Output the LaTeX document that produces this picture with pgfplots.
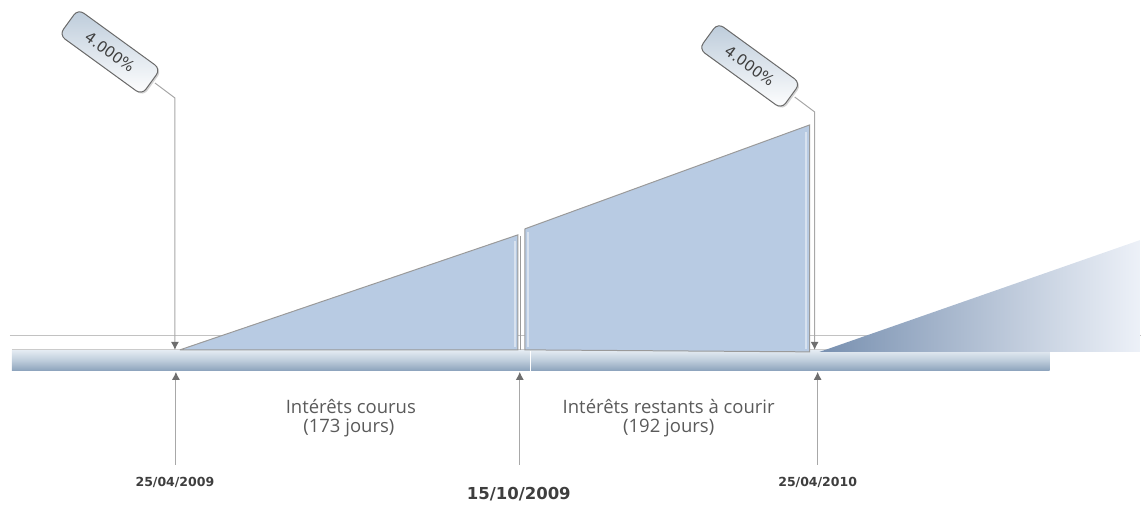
\documentclass[border=0pt]{standalone}
\usepackage{pgfplots}
\pgfplotsset{compat=1.18}
\usepackage{fontspec}
\setmainfont{Open Sans}
\newfontfamily\datefont{DejaVu Sans}
\usetikzlibrary{arrows.meta,shadows}
\definecolor{fillblue}{HTML}{B8CBE3}
\definecolor{shapeborder}{HTML}{9A9A9A}
\definecolor{linegrey}{HTML}{A8A8A8}
\definecolor{arrowgrey}{HTML}{6E6E6E}
\definecolor{barTop}{HTML}{E2E9F1}
\definecolor{barMid}{HTML}{BCCBDA}
\definecolor{barBot}{HTML}{8BA2BB}
\definecolor{gradLeft}{HTML}{7890B0}
\definecolor{gradRight}{HTML}{EDF1F8}
\definecolor{boxTop}{HTML}{BCCBDA}
\definecolor{boxBorder}{HTML}{6A6A6A}
\definecolor{labelgrey}{HTML}{5A5A5A}
\definecolor{dategrey}{HTML}{3E3E3E}
\begin{document}
\begin{tikzpicture}
\begin{axis}[scale only axis, width=1141pt, height=504pt,
  xmin=0, xmax=1141, ymin=0, ymax=504, y dir=reverse,
  hide axis, clip=false]
\path (axis cs:0,0) rectangle (axis cs:1141,504);
% thin reference line
\addplot[draw=linegrey!70, line width=1pt] coordinates {(10,336) (1141,336)};
% timeline bar
\addplot[draw=none, top color=barTop, bottom color=barBot, middle color=barMid] coordinates {(12,351) (1050,351) (1050,371) (12,371)};
\addplot[draw=white, line width=1pt] coordinates {(531,351) (531,371)};
\addplot[draw=linegrey!60, line width=0.8pt] coordinates {(12,350) (1050,350)};
% accrued interest triangle
\addplot[fill=fillblue, draw=shapeborder, line width=1pt] coordinates {(180,350) (518,235) (518,350) (180,350)};
\addplot[draw=white, line width=2pt, opacity=0.45] coordinates {(515,241) (515,347)};
\addplot[draw=shapeborder, line width=0.8pt] coordinates {(521,236) (521,350)};
% remaining interest quadrilateral
\addplot[fill=fillblue, draw=shapeborder, line width=1pt] coordinates {(525,229) (810,125) (810,352) (525,350) (525,229)};
\addplot[draw=white, line width=2pt, opacity=0.45] coordinates {(528,232) (528,347)};
\addplot[draw=white, line width=2pt, opacity=0.45] coordinates {(806,132) (806,349)};
% fading next period triangle
\addplot[draw=none, left color=gradLeft, right color=gradRight] coordinates {(820,352) (1141,240) (1141,352)};
% leader lines with down arrows
\addplot[draw=linegrey, line width=1pt, -{Latex[length=8pt,width=8pt,color=arrowgrey]}] coordinates {(155,83) (175,98) (175,350)};
\addplot[draw=linegrey, line width=1pt, -{Latex[length=8pt,width=8pt,color=arrowgrey]}] coordinates {(795,97) (815,112) (815,350)};
% up arrows
\addplot[draw=linegrey, line width=1pt, -{Latex[length=8pt,width=8pt,color=arrowgrey]}] coordinates {(176,465) (176,372)};
\addplot[draw=linegrey, line width=1pt, -{Latex[length=8pt,width=8pt,color=arrowgrey]}] coordinates {(520,465) (520,372)};
\addplot[draw=linegrey, line width=1pt, -{Latex[length=8pt,width=8pt,color=arrowgrey]}] coordinates {(818,465) (818,372)};
% callouts
\node[rotate=-36, draw=boxBorder, line width=1pt, rounded corners=7pt, minimum width=102pt, minimum height=32pt, inner sep=2pt,
  top color=boxTop, bottom color=white, drop shadow={opacity=0.35, shadow xshift=1.5pt, shadow yshift=-1.5pt},
  font=\datefont\fontsize{15}{16}\selectfont, text=dategrey] at (axis cs:110,52) {4.000\%};
\node[rotate=-36, draw=boxBorder, line width=1pt, rounded corners=7pt, minimum width=102pt, minimum height=32pt, inner sep=2pt,
  top color=boxTop, bottom color=white, drop shadow={opacity=0.35, shadow xshift=1.5pt, shadow yshift=-1.5pt},
  font=\datefont\fontsize{15}{16}\selectfont, text=dategrey] at (axis cs:750,66) {4.000\%};
% labels
\node[font=\fontsize{18.5}{20}\selectfont, text=labelgrey] at (axis cs:351,407) {Intérêts courus};
\node[font=\fontsize{18.5}{20}\selectfont, text=labelgrey] at (axis cs:349,428) {(173 jours)};
\node[font=\fontsize{18.5}{20}\selectfont, text=labelgrey] at (axis cs:669,407) {Intérêts restants à courir};
\node[font=\fontsize{18.5}{20}\selectfont, text=labelgrey] at (axis cs:669,428) {(192 jours)};
% dates
\node[font=\datefont\bfseries\fontsize{12.5}{14}\selectfont, text=dategrey] at (axis cs:175,483) {25/04/2009};
\node[font=\datefont\bfseries\fontsize{16.5}{18}\selectfont, text=dategrey] at (axis cs:519,494) {15/10/2009};
\node[font=\datefont\bfseries\fontsize{12.5}{14}\selectfont, text=dategrey] at (axis cs:818,483) {25/04/2010};
\end{axis}
\end{tikzpicture}
\end{document}
